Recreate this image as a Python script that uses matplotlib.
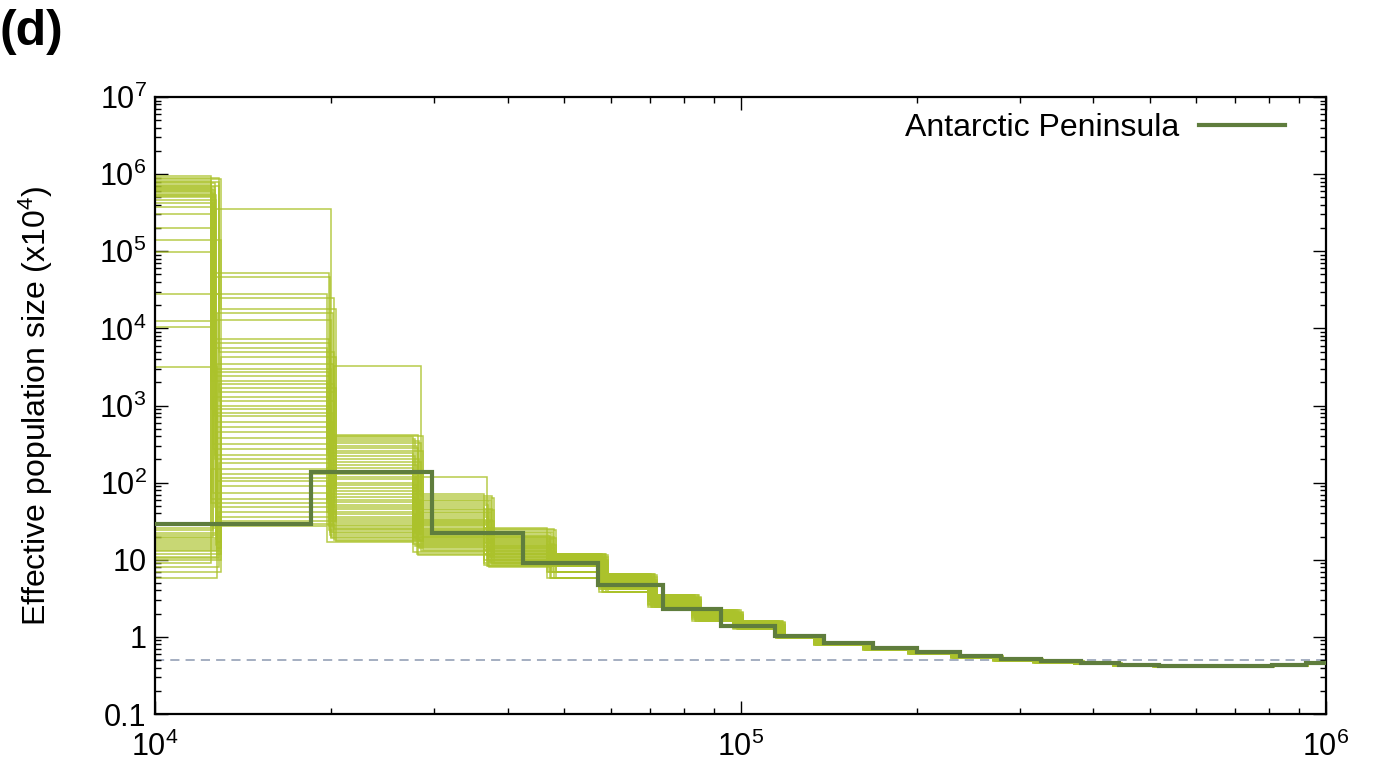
import matplotlib
matplotlib.use("Agg")
import matplotlib.pyplot as plt

plt.rcParams["font.family"] = ["Liberation Sans", "DejaVu Sans"]
plt.rcParams["mathtext.fontset"] = "custom"
plt.rcParams["mathtext.rm"] = "Liberation Sans"
plt.rcParams["mathtext.it"] = "Liberation Sans"

# main PSMC estimate (years, Ne x10^4)
main_edges = [5e3, 18470, 29720, 42500, 57100, 73700, 92600, 114600, 138900,
              168400, 200200, 237000, 279000, 326000, 382000, 443000, 519000,
              809000, 924000, 1.3e6]
main_ne = [29, 137, 22.5, 9.1, 4.7, 2.3, 1.40, 1.02, 0.83, 0.71, 0.63, 0.56,
           0.514, 0.484, 0.456, 0.43, 0.418, 0.43, 0.456]

# bootstrap replicates
boot_edges = [5e3, 12700, 20000, 28100, 37200, 47500, 58300, 70700, 84000,
              99000, 117000, 136000, 165000, 197000, 233000, 275000, 322000,
              378000, 440000, 515000, 800000, 915000, 1.3e6]
boot_time_scale = [0.982, 1.0, 1.012, 0.99, 1.02, 0.996, 1.006]

seg1 = [9.4e5, 26, 9.0e5, 24, 8.6e5, 2.0e5, 22, 8.2e5, 21, 7.9e5, 20, 1.4e5,
        7.6e5, 19, 7.3e5, 18, 7.0e5, 9.8e4, 17, 6.8e5, 16, 6.6e5, 15, 2.8e4,
        6.4e5, 14, 6.2e5, 13.5, 6.0e5, 1.25e4, 13, 5.8e5, 12, 5.6e5, 11,
        1.05e4, 5.4e5, 10.5, 5.2e5, 10, 5.0e5, 3.2e3, 9, 4.6e5, 8, 4.2e5, 7,
        3.7e5, 5.8, 3.0e5]
seg2 = [27, 3.5e5, 1.5e3, 5.3e4, 90, 4.7e4, 450, 2.8e4, 36, 2.5e4, 1.3e3,
        1.8e4, 200, 1.6e4, 62, 1.3e4, 1.15e3, 7.2e3, 130, 6.5e3, 29, 5.6e3,
        1e3, 5.0e3, 270, 4.3e3, 48, 3.5e3, 900, 3.0e3, 180, 2.7e3, 32, 2.4e3,
        800, 2.1e3, 380, 1.9e3, 73, 1.7e3, 730, 620, 150, 520, 42, 320, 115,
        230, 105, 55]
seg3 = [17, 410, 3300, 24, 400, 92, 22, 390, 85, 18, 370, 78, 21, 350, 72,
        20, 330, 66, 30, 300, 60, 28, 280, 56, 27, 260, 52, 26, 240, 48, 25,
        220, 45, 23, 200, 42, 19, 185, 39, 17.5, 170, 36, 155, 34, 140, 32,
        130, 120, 110, 100]
seg4 = [72, 11.5, 68, 117, 64, 12, 60, 12.5, 57, 13, 54, 13.5, 51, 14, 48,
        14.5, 46, 15, 44, 15.5, 42, 16, 40, 16.5, 38, 17, 36, 17.5, 34, 18,
        33, 18.5, 32, 19, 31, 19.5, 30, 20, 29, 20.5, 28, 21, 27, 21.5, 26,
        22, 25, 23, 24, 23.5]
seg5 = [26, 8, 25, 8.2, 24, 8.4, 23, 8.6, 22, 8.8, 21, 9, 20.5, 9.2, 20, 9.4,
        19.5, 9.6, 19, 9.8, 18.5, 10, 18, 10.2, 17.5, 10.5, 17, 10.8, 16.5,
        11.1, 16, 11.4, 15.5, 11.7, 15, 12, 14.6, 12.3, 14.2, 12.6, 13.8, 13,
        13.4, 15, 14, 13, 12, 11, 10, 9]
seg6 = [12, 11.5, 11, 10.5, 10, 9.5, 9, 8.2, 7, 5.8]
seg7 = [6.6, 6.3, 6.0, 5.7, 5.4, 5.1, 4.8, 4.5, 4.2, 3.8]
seg8 = [3.5, 3.3, 3.2, 3.1, 3.0, 2.9, 2.8, 2.7, 2.6, 2.45]
seg9 = [2.2, 2.1, 2.05, 2.0, 1.95, 1.9, 1.85, 1.8, 1.7, 1.6]
seg10 = [1.6, 1.55, 1.5, 1.47, 1.44, 1.41, 1.38, 1.35, 1.3, 1.26]
tail = [
    [1.06, 1.02, 0.99, 0.97],
    [0.85, 0.82, 0.80, 0.78],
    [0.72, 0.70, 0.69, 0.67],
    [0.63, 0.62, 0.61, 0.60],
    [0.56, 0.55, 0.545, 0.54],
    [0.51, 0.50, 0.495, 0.49],
    [0.48, 0.475, 0.47, 0.46],
    [0.455, 0.45, 0.445, 0.44],
    [0.43, 0.428, 0.424, 0.42],
    [0.42, 0.417, 0.414, 0.41],
    [0.43, 0.428, 0.424, 0.42],
    [0.45, 0.447, 0.444, 0.44],
]

ne_ref = 0.5
y_ticks = [0.1, 1, 10, 1e2, 1e3, 1e4, 1e5, 1e6, 1e7]
y_ticklabels = ["0.1", "1", "10", r"$10^{2}$", r"$10^{3}$", r"$10^{4}$",
                r"$10^{5}$", r"$10^{6}$", r"$10^{7}$"]
x_ticks = [1e4, 1e5, 1e6]
x_ticklabels = [r"$10^{4}$", r"$10^{5}$", r"$10^{6}$"]

fig = plt.figure(figsize=(13.73, 7.67), dpi=100)
ax = fig.add_axes([0.1129, 0.0691, 0.8529, 0.8044])

boot_color = "#abc22b"
main_color = "#5f7d3d"

spread = [seg1, seg2, seg3, seg4, seg5, seg6, seg7, seg8, seg9, seg10]
for i in range(len(seg1)):
    vals = [s[i % len(s)] for s in spread] + [t[i % len(t)] for t in tail]
    k = boot_time_scale[i % len(boot_time_scale)]
    edges = [e * k for e in boot_edges]
    ax.stairs(vals, edges, baseline=None, color=boot_color, lw=1.1, alpha=0.85,
              zorder=2)

ax.axhline(ne_ref, color="#8c98b0", lw=1.1, dashes=(6, 4), zorder=1)
ax.stairs(main_ne, main_edges, baseline=None, color=main_color, lw=3,
          zorder=3, label="Antarctic Peninsula")

ax.set_xscale("log")
ax.set_yscale("log")
ax.set_xlim(1e4, 1e6)
ax.set_ylim(0.1, 1e7)
ax.set_xticks(x_ticks)
ax.set_xticklabels(x_ticklabels)
ax.set_yticks(y_ticks)
ax.set_yticklabels(y_ticklabels)
ax.tick_params(which="both", direction="in", top=True, right=True, width=1)
ax.tick_params(which="major", length=9.5)
ax.tick_params(which="minor", length=4)
ax.tick_params(axis="x", labelsize=22, pad=13)
ax.tick_params(axis="y", labelsize=22, pad=6)
for sp in ax.spines.values():
    sp.set_linewidth(1.6)

ax.set_ylabel(r"Effective population size (x10$^{4}$)", fontsize=23)
ax.yaxis.set_label_coords(-0.085, 0.5)

ax.legend(loc="upper right", bbox_to_anchor=(0.976, 0.995), borderaxespad=0,
          frameon=False, markerfirst=False, fontsize=23,
          handlelength=2.7, handletextpad=0.6)

fig.text(0.0, 0.988, "(d)", fontsize=36, fontweight="bold", va="top", ha="left")

fig.savefig("out.png", dpi=100)
